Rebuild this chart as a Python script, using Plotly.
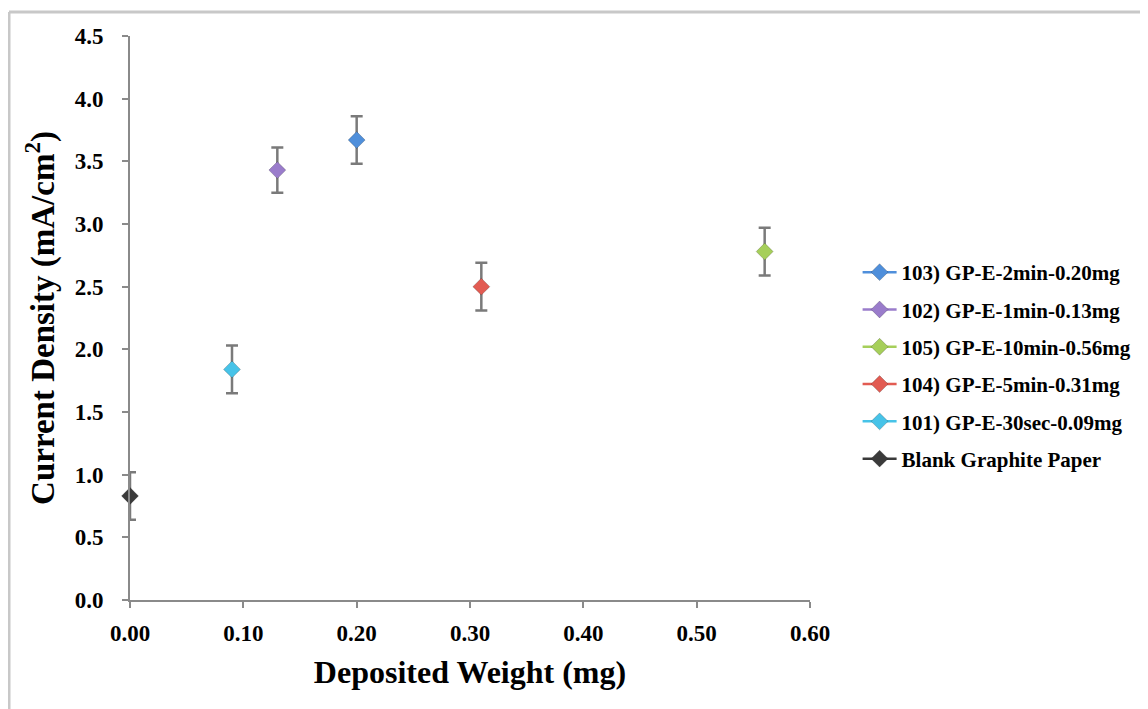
import plotly.graph_objects as go

names = ["103) GP-E-2min-0.20mg", "102) GP-E-1min-0.13mg", "105) GP-E-10min-0.56mg",
         "104) GP-E-5min-0.31mg", "101) GP-E-30sec-0.09mg", "Blank Graphite Paper"]
weights = [0.20, 0.13, 0.56, 0.31, 0.09, 0.00]
density = [3.67, 3.43, 2.78, 2.50, 1.84, 0.83]
errors = [0.19, 0.18, 0.19, 0.19, 0.19, 0.19]
colors = ["#4F8FDB", "#9A7CCB", "#A6CF5A", "#E25B52", "#47C3E8", "#3A3A3A"]
xticks = [0.0, 0.1, 0.2, 0.3, 0.4, 0.5, 0.6]
yticks = [0.0, 0.5, 1.0, 1.5, 2.0, 2.5, 3.0, 3.5, 4.0, 4.5]

FONT = "Liberation Serif"
fig = go.Figure()
for i, (n, x, y, e, c) in enumerate(zip(names, weights, density, errors, colors)):
    fig.add_trace(go.Scatter(
        x=[x], y=[y], name=n, mode="lines+markers", legendgroup=str(i),
        line=dict(color=c, width=2.5),
        marker=dict(symbol="diamond", size=13, color=c, line=dict(color="rgba(0,0,0,0.2)", width=1)),
        error_y=dict(type="data", array=[e], visible=True, color="#7a7a7a", thickness=2.5, width=6),
        cliponaxis=False,
    ))

def axis_common(standoff):
    return dict(showline=True, linecolor="#8a8a8a", linewidth=2, ticks="outside",
                tickcolor="#8a8a8a", tickwidth=2, ticklen=6, showgrid=False, zeroline=False,
                ticklabelstandoff=standoff,
                tickfont=dict(family=FONT, size=23, color="black", weight="bold"))

fig.update_xaxes(range=[0, 0.6], tickvals=xticks, ticktext=[f"{v:.2f}" for v in xticks],
                 title=dict(text="<b>Deposited Weight (mg)</b>",
                            font=dict(family=FONT, size=32, color="black"), standoff=16),
                 **axis_common(5))
fig.update_yaxes(range=[0, 4.5], tickvals=yticks, ticktext=[f"{v:.1f}" for v in yticks],
                 title=dict(text="<b>Current Density (mA/cm<sup>2</sup>)</b>",
                            font=dict(family=FONT, size=33, color="black"), standoff=10),
                 **axis_common(14))

fig.update_layout(
    width=1148, height=709,
    margin=dict(l=122, r=346, t=28, b=117),
    paper_bgcolor="white", plot_bgcolor="white",
    font=dict(family=FONT, color="black"),
    legend=dict(x=1.07, y=0.617, xanchor="left", yanchor="top",
                font=dict(family=FONT, size=21, color="black", weight="bold"),
                traceorder="grouped", tracegroupgap=7, itemwidth=34),
    showlegend=True,
)

# outer chart-area border (top and left edges visible)
fig.add_shape(type="line", xref="paper", yref="paper", x0=(9-130)/680, x1=1.6,
              y0=(600-12)/564, y1=(600-12)/564, line=dict(color="#c8c8c8", width=3))
fig.add_shape(type="line", xref="paper", yref="paper", x0=(9-130)/680, x1=(9-130)/680,
              y0=(600-12)/564, y1=-0.3, line=dict(color="#c8c8c8", width=3))

fig.write_html("out.html")
